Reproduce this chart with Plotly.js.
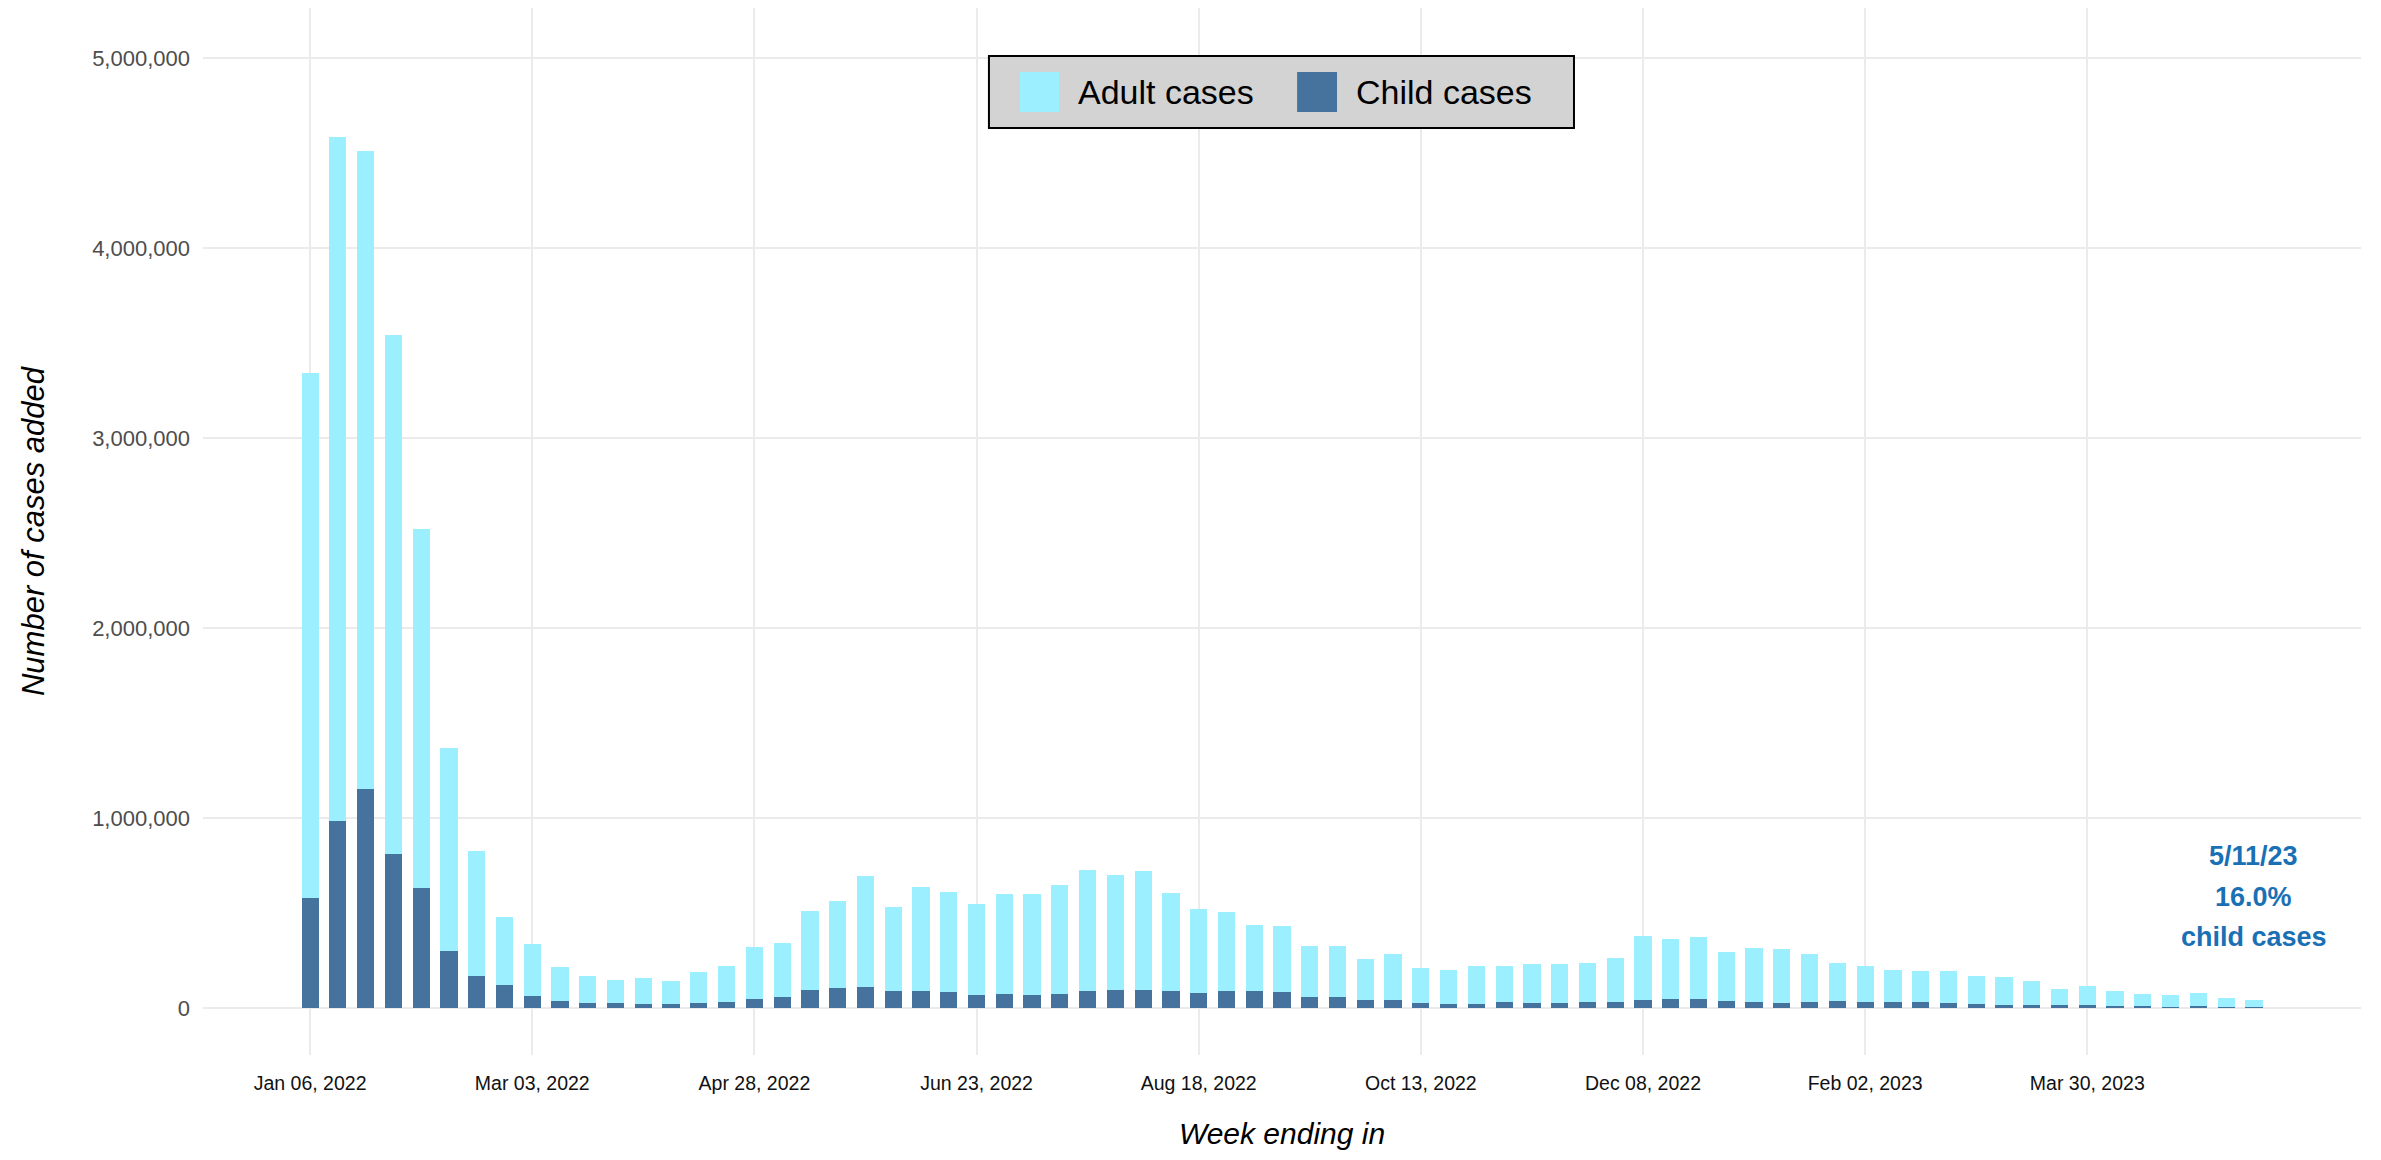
<!DOCTYPE html>
<html>
<head>
<meta charset="utf-8">
<script src="https://cdn.plot.ly/plotly-3.0.1.min.js"></script>
<style>html,body{margin:0;padding:0;background:#fff;}#chart{width:2381px;height:1160px;}</style>
</head>
<body>
<div id="chart"></div>
<script>
// Week ending dates (categories)
var weeks = [
  "2022-01-06","2022-01-13","2022-01-20","2022-01-27",
  "2022-02-03","2022-02-10","2022-02-17","2022-02-24",
  "2022-03-03","2022-03-10","2022-03-17","2022-03-24","2022-03-31",
  "2022-04-07","2022-04-14","2022-04-21","2022-04-28",
  "2022-05-05","2022-05-12","2022-05-19","2022-05-26",
  "2022-06-02","2022-06-09","2022-06-16","2022-06-23","2022-06-30",
  "2022-07-07","2022-07-14","2022-07-21","2022-07-28",
  "2022-08-04","2022-08-11","2022-08-18","2022-08-25",
  "2022-09-01","2022-09-08","2022-09-15","2022-09-22","2022-09-29",
  "2022-10-06","2022-10-13","2022-10-20","2022-10-27",
  "2022-11-03","2022-11-10","2022-11-17","2022-11-24",
  "2022-12-01","2022-12-08","2022-12-15","2022-12-22","2022-12-29",
  "2023-01-05","2023-01-12","2023-01-19","2023-01-26",
  "2023-02-02","2023-02-09","2023-02-16","2023-02-23",
  "2023-03-02","2023-03-09","2023-03-16","2023-03-23","2023-03-30",
  "2023-04-06","2023-04-13","2023-04-20","2023-04-27",
  "2023-05-04","2023-05-11"
];

// Child cases added per week
var childCases = [
  583000, 986000, 1155000, 810000, 633000, 299000, 172000, 125000, 67000, 40000,
  30000, 27000, 25000, 24000, 30000, 34000, 51000, 60000, 95000, 107000,
  114000, 89000, 89000, 84000, 68000, 75000, 68000, 75000, 93000, 98000,
  98000, 89000, 82000, 89000, 93000, 84000, 60000, 58000, 44000, 44000,
  28000, 25000, 25000, 33000, 28000, 28000, 32000, 32000, 42000, 47000,
  51000, 39000, 33000, 28000, 33000, 39000, 35000, 32000, 32000, 28000,
  23000, 19000, 19000, 16000, 16000, 12000, 12000, 9000, 12000, 9000, 7000
];

// Adult cases added per week
var adultCases = [
  2761000, 3600000, 3356000, 2735000, 1890000, 1069000, 656000, 355000, 269000, 178000,
  140000, 122000, 134000, 122000, 160000, 191000, 269000, 286000, 417000, 460000,
  584000, 446000, 548000, 527000, 483000, 527000, 534000, 572000, 635000, 604000,
  627000, 516000, 441000, 418000, 344000, 349000, 268000, 268000, 216000, 242000,
  184000, 179000, 196000, 192000, 204000, 204000, 207000, 235000, 337000, 316000,
  324000, 259000, 285000, 283000, 253000, 200000, 190000, 172000, 164000, 168000,
  145000, 146000, 125000, 88000, 103000, 81000, 65000, 59000, 70000, 44000, 37000
];

// X tick positions and labels
var tickDates = ["2022-01-06","2022-03-03","2022-04-28","2022-06-23","2022-08-18","2022-10-13","2022-12-08","2023-02-02","2023-03-30"];
var tickLabels = ["Jan 06, 2022","Mar 03, 2022","Apr 28, 2022","Jun 23, 2022","Aug 18, 2022","Oct 13, 2022","Dec 08, 2022","Feb 02, 2023","Mar 30, 2023"];

// Y ticks
var yTicks = [0, 1000000, 2000000, 3000000, 4000000, 5000000];

// Legend labels
var seriesNames = ["Adult cases", "Child cases"];

// Annotation text
var noteDate = "2023-05-11";
var noteLines = ["5/11/23", "16.0%", "child cases"];
var noteY = [803000, 587000, 377000];

var adultColor = "#9BEFFE";
var childColor = "#45739D";
var noteColor = "#1A70B5";
var FONT = "Liberation Sans, Arial, sans-serif";

var traces = [
  {type: "bar", x: weeks, y: childCases, name: seriesNames[1],
   marker: {color: childColor}, showlegend: false, hoverinfo: "x+y+name"},
  {type: "bar", x: weeks, y: adultCases, name: seriesNames[0],
   marker: {color: adultColor}, showlegend: false, hoverinfo: "x+y+name"}
];

var annotations = noteLines.map(function (t, i) {
  return {x: noteDate, y: noteY[i], xref: "x", yref: "y", text: "<b>" + t + "</b>",
          showarrow: false, xanchor: "center", yanchor: "middle",
          font: {family: FONT, size: 27, color: noteColor}};
});

// Manual legend (large swatches like the reference)
var lg = {x0: 0.3642, x1: 0.6353, y0: 0.8854, y1: 0.9542};
var sw = [{x0: 0.3786, x1: 0.3967}, {x0: 0.5070, x1: 0.5255}];
var swY = {y0: 0.9007, y1: 0.9389};
var legendColors = [adultColor, childColor];
var shapes = [
  {type: "rect", xref: "paper", yref: "paper", x0: lg.x0, x1: lg.x1, y0: lg.y0, y1: lg.y1,
   fillcolor: "#D3D3D3", line: {color: "#000", width: 2}, layer: "above"}
];
sw.forEach(function (s, i) {
  shapes.push({type: "rect", xref: "paper", yref: "paper", x0: s.x0, x1: s.x1, y0: swY.y0, y1: swY.y1,
               fillcolor: legendColors[i], line: {width: 0}, layer: "above"});
  annotations.push({xref: "paper", yref: "paper", x: s.x1 + 0.0079, y: (swY.y0 + swY.y1) / 2,
                    xanchor: "left", yanchor: "middle", showarrow: false, text: seriesNames[i],
                    font: {family: FONT, size: 34, color: "#000"}});
});

var layout = {
  width: 2381, height: 1160,
  margin: {l: 203, r: 20, t: 8, b: 105, pad: 0},
  paper_bgcolor: "#fff", plot_bgcolor: "#fff",
  barmode: "stack", bargap: 0.38,
  font: {family: FONT},
  xaxis: {
    type: "date", range: ["2021-12-10", "2023-06-07"],
    tickmode: "array", tickvals: tickDates, ticktext: tickLabels,
    tickfont: {family: FONT, size: 19.5, color: "#111"},
    ticks: "", ticklabelstandoff: 14,
    showgrid: true, gridcolor: "#EBEBEB", gridwidth: 2,
    zeroline: false, showline: false,
    title: {text: "<i>Week ending in</i>", font: {family: FONT, size: 30, color: "#000"}, standoff: 30}
  },
  yaxis: {
    range: [-246000, 5265000],
    tickmode: "array", tickvals: yTicks, tickformat: ",d",
    tickfont: {family: FONT, size: 22, color: "#4D4D4D"},
    ticks: "", ticklabelstandoff: 12,
    showgrid: true, gridcolor: "#EBEBEB", gridwidth: 2,
    zeroline: false, showline: false,
    title: {text: "<i>Number of cases added</i>", font: {family: FONT, size: 31, color: "#000"}, standoff: 38}
  },
  shapes: shapes,
  annotations: annotations
};

Plotly.newPlot("chart", traces, layout, {displayModeBar: false, staticPlot: true});
</script>
</body>
</html>
